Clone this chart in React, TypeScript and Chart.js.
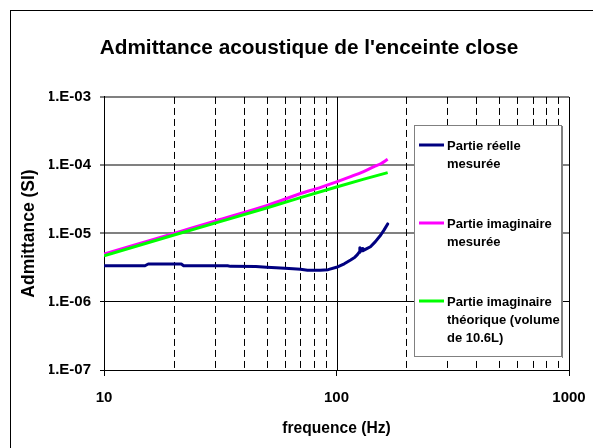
import React, { useEffect, useRef } from 'react';
import { Chart, registerables } from 'chart.js';

Chart.register(...registerables);

const TITLE = "Admittance acoustique de l'enceinte close";
const X_TITLE = 'frequence (Hz)';
const Y_TITLE = 'Admittance (SI)';

const X_MAJOR = [10, 100, 1000];
const X_MINOR = [20, 30, 40, 50, 60, 70, 80, 90, 200, 300, 400, 500, 600, 700, 800, 900];
const Y_TICKS = [1e-7, 1e-6, 1e-5, 1e-4, 1e-3];
const Y_LABELS = ['1.E-07', '1.E-06', '1.E-05', '1.E-04', '1.E-03'];

const REAL_FREQ = [10, 15, 15.5, 21.5, 22, 34, 35, 45, 50, 55, 60, 65, 70, 75, 85, 92, 100, 108, 115, 120, 123, 125, 126, 127, 129, 130, 135, 140, 147, 155, 160, 166];
const REAL_VALUES = [3.37e-6, 3.37e-6, 3.57e-6, 3.57e-6, 3.37e-6, 3.37e-6, 3.3e-6, 3.28e-6, 3.2e-6, 3.15e-6, 3.1e-6, 3.05e-6, 3.0e-6, 2.9e-6, 2.9e-6, 2.95e-6, 3.2e-6, 3.6e-6, 4.1e-6, 4.5e-6, 4.9e-6, 5.3e-6, 6.2e-6, 5.5e-6, 6.0e-6, 5.6e-6, 6.0e-6, 6.4e-6, 7.6e-6, 9.5e-6, 1.12e-5, 1.38e-5];

const IMAG_FREQ = [10, 20, 30, 50, 70, 85, 100, 115, 130, 145, 155, 166];
const IMAG_VALUES = [5.0e-6, 1.0e-5, 1.52e-5, 2.55e-5, 3.85e-5, 4.7e-5, 5.7e-5, 6.8e-5, 8.0e-5, 9.5e-5, 1.05e-4, 1.22e-4];

const THEO_FREQ = [10, 20, 30, 50, 70, 100, 130, 166];
const THEO_VALUES = [4.7e-6, 9.5e-6, 1.42e-5, 2.36e-5, 3.35e-5, 4.8e-5, 6.2e-5, 7.8e-5];

const SERIES_NAMES = [
  ['Partie réelle', 'mesurée'],
  ['Partie imaginaire', 'mesurée'],
  ['Partie imaginaire', 'théorique (volume', 'de 10.6L)'],
];
const SERIES_COLORS = ['#000080', '#FF00FF', '#00FF00'];

const FONT = 'Arial, "Liberation Sans", sans-serif';

const toPoints = (xs: number[], ys: number[]) => xs.map((x, i) => ({ x, y: ys[i] }));

export default function App() {
  const canvasRef = useRef<HTMLCanvasElement | null>(null);

  useEffect(() => {
    document.body.style.margin = '0';
    const canvas = canvasRef.current;
    if (!canvas) return;

    const frame = {
      id: 'frame',
      beforeDraw(chart: any) {
        const { ctx, width, height } = chart;
        ctx.save();
        ctx.fillStyle = '#fff';
        ctx.fillRect(0, 0, width, height);
        ctx.strokeStyle = '#000';
        ctx.lineWidth = 1;
        ctx.strokeRect(10.5, 10.5, width + 40, height + 40);
        ctx.restore();
      },
    };

    const vgrid = {
      id: 'vgrid',
      beforeDatasetsDraw(chart: any) {
        const { ctx, chartArea } = chart;
        const xs = chart.scales.x;
        ctx.save();
        ctx.strokeStyle = '#000';
        ctx.lineWidth = 1;
        ctx.setLineDash([7, 4]);
        X_MINOR.forEach((v) => {
          const px = Math.round(xs.getPixelForValue(v)) + 0.5;
          ctx.beginPath();
          ctx.moveTo(px, chartArea.top);
          ctx.lineTo(px, chartArea.bottom);
          ctx.stroke();
        });
        ctx.setLineDash([]);
        X_MAJOR.slice(1).forEach((v) => {
          const px = Math.round(xs.getPixelForValue(v)) + 0.5;
          ctx.beginPath();
          ctx.moveTo(px, chartArea.top);
          ctx.lineTo(px, chartArea.bottom);
          ctx.stroke();
        });
        ctx.restore();
      },
    };

    const legendBox = {
      id: 'legendBox',
      afterDraw(chart: any) {
        const { ctx } = chart;
        const L = 414, T = 125, W = 148, H = 232;
        ctx.save();
        ctx.fillStyle = '#fff';
        ctx.fillRect(L, T, W, H);
        ctx.strokeStyle = '#808080';
        ctx.lineWidth = 1;
        ctx.strokeRect(L + 0.5, T + 0.5, W - 1, H - 1);
        ctx.beginPath();
        ctx.moveTo(L + W + 0.5, T + 1);
        ctx.lineTo(L + W + 0.5, T + H + 1);
        ctx.stroke();
        ctx.font = 'bold 13px ' + FONT;
        ctx.textBaseline = 'middle';
        ctx.textAlign = 'left';
        SERIES_NAMES.forEach((lines, i) => {
          const y0 = T + 20 + i * 78;
          ctx.strokeStyle = SERIES_COLORS[i];
          ctx.lineWidth = 3;
          ctx.beginPath();
          ctx.moveTo(L + 5, y0);
          ctx.lineTo(L + 30, y0);
          ctx.stroke();
          ctx.fillStyle = '#000';
          lines.forEach((t, j) => ctx.fillText(t, L + 33, y0 + 1 + j * 18));
        });
        ctx.restore();
      },
    };

    const chart = new Chart(canvas, {
      type: 'line',
      data: {
        datasets: [
          {
            label: SERIES_NAMES[0].join(' '),
            data: toPoints(REAL_FREQ, REAL_VALUES),
            borderColor: SERIES_COLORS[0],
            borderWidth: 3,
            borderJoinStyle: 'round',
            borderCapStyle: 'round',
            pointRadius: 0,
            tension: 0,
            order: 2,
          },
          {
            label: SERIES_NAMES[1].join(' '),
            data: toPoints(IMAG_FREQ, IMAG_VALUES),
            borderColor: SERIES_COLORS[1],
            borderWidth: 3,
            borderJoinStyle: 'round',
            pointRadius: 0,
            tension: 0.3,
            order: 1,
          },
          {
            label: SERIES_NAMES[2].join(' '),
            data: toPoints(THEO_FREQ, THEO_VALUES),
            borderColor: SERIES_COLORS[2],
            borderWidth: 3,
            borderJoinStyle: 'round',
            pointRadius: 0,
            tension: 0,
            order: 0,
          },
        ],
      },
      options: {
        responsive: false,
        animation: false,
        layout: { padding: { left: 49, right: 24, top: 0, bottom: 0 } },
        plugins: {
          legend: { display: false },
          tooltip: { enabled: false },
          title: {
            display: true,
            text: TITLE,
            color: '#000',
            font: { family: FONT, size: 20.8, weight: 'bold', lineHeight: 1.2 },
            padding: { top: 35.5, bottom: 36.5 },
          },
        },
        scales: {
          x: {
            type: 'logarithmic',
            min: 10,
            max: 1000,
            afterBuildTicks: (scale: any) => {
              scale.ticks = X_MAJOR.map((v) => ({ value: v }));
            },
            afterFit: (scale: any) => {
              scale.height = 78;
              scale.paddingLeft = 0;
              scale.paddingRight = 0;
            },
            ticks: {
              autoSkip: false,
              maxRotation: 0,
              padding: 13,
              color: '#000',
              font: { family: FONT, size: 15, weight: 'bold' },
              callback: (v: any) => String(v),
            },
            grid: { drawOnChartArea: false, drawTicks: true, tickLength: 6, color: '#000' },
            border: { display: true, color: '#000', width: 1 },
            title: {
              display: true,
              text: X_TITLE,
              color: '#000',
              font: { family: FONT, size: 15.6, weight: 'bold', lineHeight: 1.2 },
              padding: { top: 0, bottom: 10 },
            },
          },
          y: {
            type: 'logarithmic',
            min: 1e-7,
            max: 1e-3,
            afterBuildTicks: (scale: any) => {
              scale.ticks = Y_TICKS.map((v) => ({ value: v }));
            },
            afterFit: (scale: any) => {
              scale.width = 55;
            },
            ticks: {
              autoSkip: false,
              padding: 9,
              color: '#000',
              font: { family: FONT, size: 15, weight: 'bold' },
              callback: (v: any) => {
                const i = Y_TICKS.findIndex((t) => Math.abs(Math.log10(t) - Math.log10(v)) < 1e-6);
                return i >= 0 ? Y_LABELS[i] : '';
              },
            },
            grid: {
              drawOnChartArea: true,
              drawTicks: true,
              tickLength: 4,
              color: (c: any) => (c.tick && c.tick.value >= 1e-5 * 0.999 ? '#808080' : '#000'),
              lineWidth: (c: any) => (c.tick && c.tick.value >= 1e-5 * 0.999 ? 2 : 1),
            },
            border: { display: true, color: '#000', width: 1 },
            title: {
              display: true,
              text: Y_TITLE,
              color: '#000',
              font: { family: FONT, size: 17.5, weight: 'bold', lineHeight: 1.2 },
              padding: { top: -30.5, bottom: 0 },
            },
          },
        },
      },
      plugins: [frame, vgrid, legendBox],
    } as any);

    return () => chart.destroy();
  }, []);

  return (
    <div style={{ width: 593, height: 448 }}>
      <canvas ref={canvasRef} width={593} height={448} style={{ display: 'block' }} />
    </div>
  );
}
